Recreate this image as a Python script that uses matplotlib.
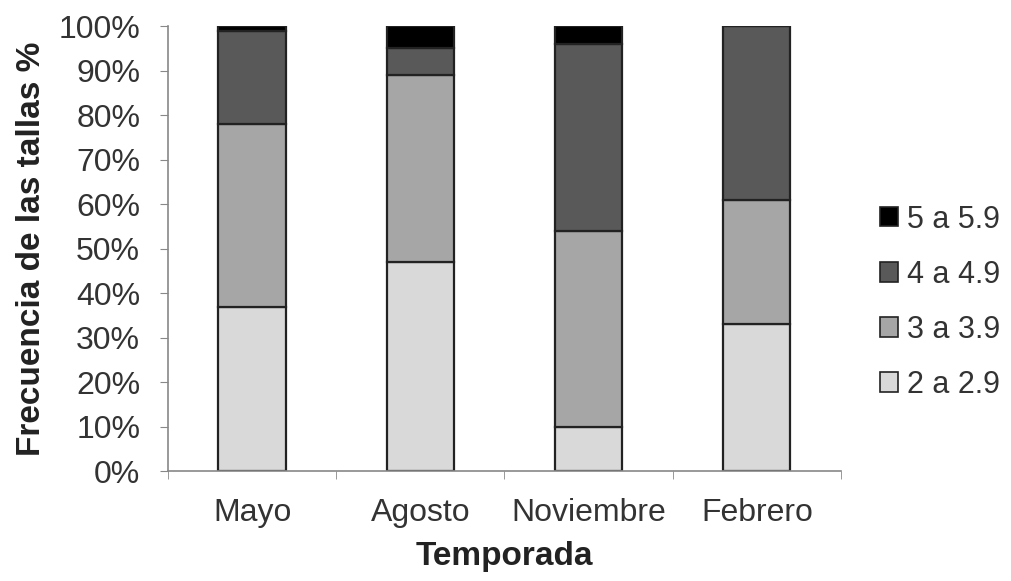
import numpy as np
import matplotlib
matplotlib.use('Agg')
import matplotlib.pyplot as plt
from matplotlib.patches import Patch

plt.rcParams['font.family'] = ['Liberation Sans', 'DejaVu Sans']

temporadas = ['Mayo', 'Agosto', 'Noviembre', 'Febrero']
tallas = ['2 a 2.9', '3 a 3.9', '4 a 4.9', '5 a 5.9']
t2 = [37, 47, 10, 33]
t3 = [41, 42, 44, 28]
t4 = [21, 6, 42, 39]
t5 = [1, 5, 4, 0]
colores = ['#d9d9d9', '#a6a6a6', '#595959', '#000000']

fig = plt.figure(figsize=(10.12, 5.81), dpi=100)
ax = fig.add_axes([0.166, 0.189, 0.665, 0.766])

# stacked bars, one layer per size class
x = np.arange(len(temporadas))
base = np.zeros(len(temporadas))
handles = []
for vals, col, lab in zip([t2, t3, t4, t5], colores, tallas):
	ax.bar(x, vals, width=0.4, bottom=base, color=col, edgecolor='#222222', linewidth=1.6)
	base += np.array(vals)
	handles.append(Patch(facecolor=col, edgecolor='#222222', linewidth=1.2, label=lab))

ax.set_xlim(-0.5, len(temporadas) - 0.5)
ax.set_ylim(0, 100)
ax.set_yticks(np.arange(0, 101, 10))
ax.set_yticklabels([str(v) + '%' for v in range(0, 101, 10)])
ax.set_xticks(x)
ax.set_xticklabels(temporadas)
ax.set_xticks(np.arange(-0.5, len(temporadas), 1), minor=True)
ax.tick_params(axis='x', which='major', length=0, pad=19, labelsize=23, colors='#333333')
ax.tick_params(axis='x', which='minor', length=6, color='#888888')
ax.tick_params(axis='y', length=6, color='#888888', labelsize=23, labelcolor='#333333', pad=14)

for s in ['top', 'right']:
	ax.spines[s].set_visible(False)
for s in ['left', 'bottom']:
	ax.spines[s].set_color('#888888')
	ax.spines[s].set_linewidth(1.2)

ax.set_xlabel('Temporada', fontsize=24, fontweight='bold', labelpad=10, color='#222222')
ax.set_ylabel('Frecuencia de las tallas %', fontsize=24, fontweight='bold', labelpad=8, color='#222222')

leg = fig.legend(handles=handles[::-1], loc='center left', bbox_to_anchor=(0.842, 0.48),
	frameon=False, fontsize=22, handlelength=0.6, handleheight=0.6,
	handletextpad=0.3, labelspacing=0.82)
for t in leg.get_texts():
	t.set_color('#333333')

plt.savefig('out.png', dpi=100)
plt.close()
